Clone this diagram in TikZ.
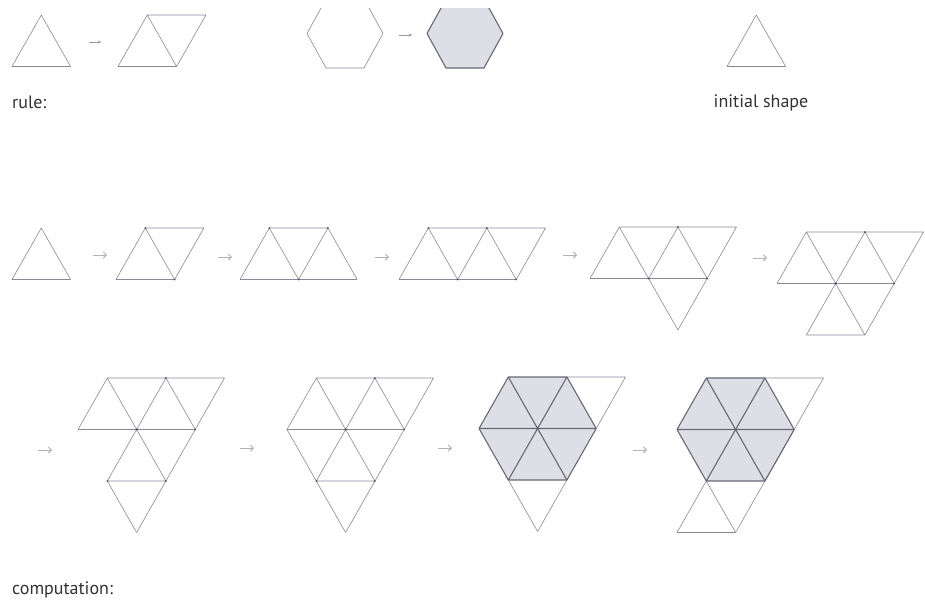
\documentclass[tikz,border=0pt]{standalone}
\usepackage{fontspec}
\setmainfont{PT Sans}
\usepackage{tikz}
\usetikzlibrary{arrows.meta}

\definecolor{edgegray}{RGB}{140,135,152}
\definecolor{hexline}{RGB}{105,105,118}
\definecolor{hexfill}{RGB}{222,222,230}
\definecolor{labelgray}{RGB}{50,50,55}

\begin{document}
\begin{tikzpicture}[
  x=1pt, y=-1pt,
  edge/.style={draw=edgegray, line width=0.6pt, line join=round},
  hexedge/.style={draw=hexline, line width=1.1pt, line join=round},
  cell/.style={x=29.3pt, y=-51.5pt},
  rulear/.style={-{Stealth[length=3pt,width=3pt]}, draw=black!40, line width=0.5pt},
  nextar/.style={-{Straight Barb[length=3pt,width=6pt]}, draw=black!30, line width=0.9pt},
  vtx/.style={fill=edgegray!60!black},
  lbl/.style={text=labelgray, inner sep=0pt, font=\fontsize{18}{21}\selectfont},
]
\useasboundingbox (0,0) rectangle (925,603);

% rule
\begin{scope}[shift={(12,15)}, cell]
\draw[edge] (1,0) -- (0,1) -- (2,1) -- cycle;
\end{scope}
\draw[rulear] (89,42) -- (101,42);
\begin{scope}[shift={(118,15)}, cell]
\draw[edge] (0,1) -- (1,0) -- (3,0) -- (2,1) -- cycle (1,0) -- (2,1);
\end{scope}

\begin{scope}
\clip (290,8) rectangle (520,80);
\draw[edge] (307,33.5) -- (326,-1) -- (364,-1) -- (383,33.5) -- (364,68) -- (326,68) -- cycle;
\filldraw[fill=hexfill, hexedge] (427,33.5) -- (446,-1) -- (484,-1) -- (503,33.5) -- (484,68) -- (446,68) -- cycle;
\end{scope}
\draw[rulear] (399,35) -- (412,35);

\node[lbl, anchor=base west] (rule) at (12,108) {rule:};

% initial shape
\begin{scope}[shift={(727,15)}, cell]
\draw[edge] (1,0) -- (0,1) -- (2,1) -- cycle;
\end{scope}
\node[lbl, anchor=base] (init) at (761,107) {initial shape};

% computation, first row
\begin{scope}[shift={(12,228)}, cell]
\draw[edge] (1,0) -- (0,1) -- (2,1) -- cycle;
\end{scope}
\draw[nextar] (93,255) -- (107,255);

\begin{scope}[shift={(116,228)}, cell]
\draw[edge] (0,1) -- (1,0) -- (3,0) -- (2,1) -- cycle (1,0) -- (2,1);
\fill[vtx] (1,0) circle (1pt) (2,1) circle (1pt);
\end{scope}
\draw[nextar] (218,257) -- (232,257);

\begin{scope}[shift={(240,228)}, cell]
\draw[edge] (0,1) -- (4,1) (1,0) -- (3,0) (0,1) -- (1,0) -- (2,1) -- (3,0) -- (4,1);
\fill[vtx] (1,0) circle (1pt) (3,0) circle (1pt) (2,1) circle (1pt);
\end{scope}
\draw[nextar] (375,257) -- (389,257);

\begin{scope}[shift={(399,228)}, cell]
\draw[edge] (0,1) -- (4,1) (1,0) -- (5,0)
  (0,1) -- (1,0) -- (2,1) -- (3,0) -- (4,1) -- (5,0);
\fill[vtx] (1,0) circle (1pt) (3,0) circle (1pt) (2,1) circle (1pt) (4,1) circle (1pt);
\end{scope}
\draw[nextar] (563,255) -- (577,255);

\begin{scope}[shift={(590,227)}, cell]
\draw[edge] (1,0) -- (5,0) (0,1) -- (4,1)
  (1,0) -- (0,1) (3,0) -- (2,1) (5,0) -- (3,2)
  (1,0) -- (3,2) (3,0) -- (4,1);
\fill[vtx] (3,0) circle (1pt) (2,1) circle (1pt) (4,1) circle (1pt);
\end{scope}
\draw[nextar] (753,258) -- (767,258);

\begin{scope}[shift={(777,232)}, cell]
\draw[edge] (1,0) -- (5,0) (0,1) -- (4,1) (1,2) -- (3,2)
  (1,0) -- (0,1) (3,0) -- (1,2) (5,0) -- (3,2)
  (1,0) -- (3,2) (3,0) -- (4,1);
\fill[vtx] (3,0) circle (1pt) (2,1) circle (1.2pt) (4,1) circle (1pt);
\end{scope}

% computation, second row
\draw[nextar] (38,450) -- (52,450);
\begin{scope}[shift={(78,378)}, cell]
\draw[edge] (1,0) -- (5,0) (0,1) -- (4,1) (1,2) -- (3,2)
  (1,0) -- (0,1) (3,0) -- (1,2) (5,0) -- (2,3)
  (1,0) -- (3,2) (3,0) -- (4,1) (1,2) -- (2,3);
\fill[vtx] (3,0) circle (1pt) (2,1) circle (1.2pt) (4,1) circle (1pt)
  (1,2) circle (1pt) (3,2) circle (1pt);
\end{scope}
\draw[nextar] (240,448) -- (254,448);

\begin{scope}[shift={(287,378)}, cell]
\draw[edge] (1,0) -- (5,0) (0,1) -- (4,1) (1,2) -- (3,2)
  (1,0) -- (0,1) (3,0) -- (1,2) (5,0) -- (2,3)
  (1,0) -- (3,2) (3,0) -- (4,1) (0,1) -- (2,3);
\fill[vtx] (3,0) circle (1pt) (2,1) circle (1.2pt) (4,1) circle (1pt)
  (1,2) circle (1pt) (3,2) circle (1pt);
\end{scope}
\draw[nextar] (438,448) -- (452,448);

\begin{scope}[shift={(479,377)}, cell]
\fill[hexfill] (0,1) -- (1,0) -- (3,0) -- (4,1) -- (3,2) -- (1,2) -- cycle;
\draw[edge] (3,0) -- (5,0) -- (4,1) (1,2) -- (2,3) -- (3,2);
\draw[hexedge] (0,1) -- (1,0) -- (3,0) -- (4,1) -- (3,2) -- (1,2) -- cycle
  (0,1) -- (4,1) (1,0) -- (3,2) (3,0) -- (1,2);
\end{scope}
\draw[nextar] (633,450) -- (647,450);

\begin{scope}[shift={(677,378)}, cell]
\fill[hexfill] (0,1) -- (1,0) -- (3,0) -- (4,1) -- (3,2) -- (1,2) -- cycle;
\draw[edge] (3,0) -- (5,0) -- (2,3) -- (0,3) -- (1,2) -- (2,3);
\draw[hexedge] (0,1) -- (1,0) -- (3,0) -- (4,1) -- (3,2) -- (1,2) -- cycle
  (0,1) -- (4,1) (1,0) -- (3,2) (3,0) -- (1,2);
\end{scope}

\node[lbl, anchor=base west] (comp) at (12,594) {computation:};
\end{tikzpicture}
\end{document}
